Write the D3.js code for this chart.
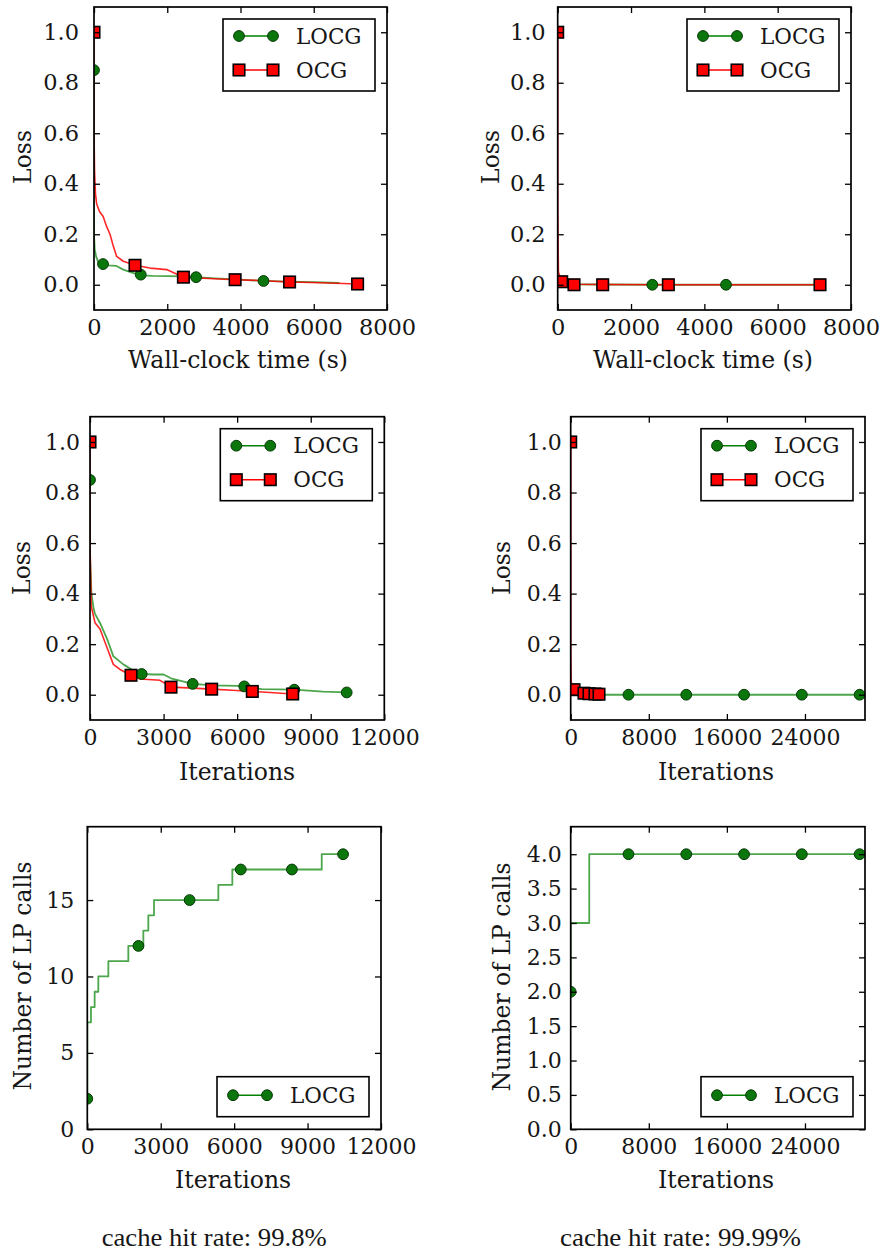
<!DOCTYPE html>
<html><head><meta charset="utf-8">
<script src="https://cdn.jsdelivr.net/npm/d3@7"></script>
<style>
body{margin:0;background:#fff}
svg{display:block}
</style>
</head><body>
<svg id="c" width="881" height="1251"></svg>
<script>
// ---------------- DATA ----------------
const seriesNames = ["LOCG", "OCG"];
const lossTicks = [0.0, 0.2, 0.4, 0.6, 0.8, 1.0];
const timeTicks = [0, 2000, 4000, 6000, 8000];
const iterTicksA = [0, 3000, 6000, 9000, 12000];
const iterTicksB = [0, 8000, 16000, 24000];
const lpTicksA = [0, 5, 10, 15];
const lpTicksB = [0.0, 0.5, 1.0, 1.5, 2.0, 2.5, 3.0, 3.5, 4.0];
const captions = ["cache hit rate: 99.8%", "cache hit rate: 99.99%"];

// Panel 1: loss vs wall-clock time, problem A
const locgTimeA_x = [0, 0, 20, 60, 120, 246, 400, 600, 800, 1000, 1276, 1600, 2000, 2500, 2788, 3300, 4000, 4628, 5300, 6000, 6700];
const locgTimeA_y = [0.85, 0.2, 0.14, 0.11, 0.09, 0.082, 0.077, 0.075, 0.06, 0.05, 0.037, 0.035, 0.034, 0.033, 0.03, 0.025, 0.02, 0.015, 0.012, 0.01, 0.007];
const locgTimeA_mx = [0, 246, 1276, 2788, 4628];
const locgTimeA_my = [0.85, 0.082, 0.04, 0.03, 0.015];
const ocgTimeA_x = [0, 0, 15, 40, 73, 150, 250, 346, 437, 528, 619, 800, 1120, 1530, 1985, 2441, 3000, 3853, 4500, 5340, 6200, 7197];
const ocgTimeA_y = [1.0, 0.6, 0.45, 0.36, 0.32, 0.29, 0.27, 0.23, 0.2, 0.152, 0.112, 0.093, 0.077, 0.066, 0.06, 0.03, 0.026, 0.02, 0.017, 0.011, 0.008, 0.003];
const ocgTimeA_mx = [0, 1120, 2441, 3853, 5340, 7197];
const ocgTimeA_my = [1.0, 0.077, 0.03, 0.02, 0.011, 0.003];

// Panel 2: loss vs wall-clock time, problem B
const locgTimeB_x = [0, 30, 200, 571, 1200, 2581, 4591, 7000];
const locgTimeB_y = [0.012, 0.01, 0.005, 0.002, 0.001, 0.0, 0.0, 0.0];
const locgTimeB_mx = [30, 2581, 4591];
const locgTimeB_my = [0.012, 0.0, 0.0];
const ocgTimeB_x = [0, 0, 20, 109, 445, 1227, 3018, 7155];
const ocgTimeB_y = [1.0, 0.3, 0.05, 0.012, 0.002, 0.001, 0.0, 0.0];
const ocgTimeB_mx = [0, 109, 445, 1227, 3018, 7155];
const ocgTimeB_my = [1.0, 0.012, 0.0, 0.0, 0.0, 0.0];

// Panel 3: loss vs iterations, problem A
const locgIterA_x = [0, 0, 60, 150, 204, 408, 700, 951, 1359, 1700, 2107, 2600, 3000, 3300, 3700, 4186, 5000, 6000, 6290, 7000, 8330, 9500, 10466];
const locgIterA_y = [0.85, 0.55, 0.4, 0.34, 0.32, 0.284, 0.22, 0.152, 0.12, 0.1, 0.082, 0.08, 0.08, 0.065, 0.055, 0.043, 0.037, 0.035, 0.033, 0.022, 0.02, 0.012, 0.009];
const locgIterA_mx = [0, 2107, 4186, 6290, 8330, 10466];
const locgIterA_my = [0.85, 0.082, 0.043, 0.033, 0.02, 0.009];
const ocgIterA_x = [0, 0, 50, 204, 408, 680, 951, 1223, 1672, 2040, 2855, 3302, 4000, 4960, 5800, 6618, 7500, 8264];
const ocgIterA_y = [1.0, 0.6, 0.35, 0.285, 0.26, 0.19, 0.12, 0.1, 0.077, 0.062, 0.057, 0.03, 0.027, 0.022, 0.018, 0.013, 0.008, 0.003];
const ocgIterA_mx = [0, 1672, 3302, 4960, 6618, 8264];
const ocgIterA_my = [1.0, 0.077, 0.03, 0.022, 0.013, 0.003];

// Panel 4: loss vs iterations, problem B
const locgIterB_x = [0, 3000, 5920, 11840, 17760, 23680, 29600];
const locgIterB_y = [0.01, 0.0, 0.0, 0.0, 0.0, 0.0, 0.0];
const locgIterB_mx = [5920, 11840, 17760, 23680, 29600];
const locgIterB_my = [0.0, 0.0, 0.0, 0.0, 0.0];
const ocgIterB_x = [0, 0, 50, 340, 1363, 1875, 2490, 2900];
const ocgIterB_y = [1.0, 0.17, 0.05, 0.02, 0.006, 0.004, 0.003, 0.002];
const ocgIterB_mx = [0, 340, 1363, 1875, 2490, 2900];
const ocgIterB_my = [1.0, 0.02, 0.006, 0.004, 0.003, 0.002];

// Panel 5: number of LP calls vs iterations, problem A (step)
const lpA_x = [0, 0, 150, 300, 450, 860, 1676, 2290, 2493, 2725, 5354, 5926, 9578, 10466];
const lpA_y = [2, 7, 8, 9, 10, 11, 12, 13, 14, 15, 16, 17, 18, 18];
const lpA_mx = [0, 2090, 4180, 6270, 8360, 10450];
const lpA_my = [2, 12, 15, 17, 17, 18];

// Panel 6: number of LP calls vs iterations, problem B (step)
const lpB_x = [0, 0, 1900, 29600];
const lpB_y = [2, 3, 4, 4];
const lpB_mx = [0, 5920, 11840, 17760, 23680, 29600];
const lpB_my = [2, 4, 4, 4, 4, 4];

// ---------------- STYLE / LAYOUT ----------------
const FONT = "'DejaVu Serif', serif";
const CAP_FONT = "'Liberation Serif', 'Times New Roman', serif";
const GREEN = "#008000", RED = "#ff0000";
const zip = (xs, ys) => xs.map((x, i) => ({x, y: ys[i]}));
const locgStyle = {name: seriesNames[0], color: GREEN, marker: "circle", lineOpacity: 0.7, lw: 1.8};
const ocgStyle = {name: seriesNames[1], color: RED, marker: "square", lineOpacity: 0.85, lw: 1.6};

const panels = [
  {l: 94, r: 387, t: 7, b: 310, xd: [0, 8000], xt: timeTicks, yd: [-0.1, 1.1], yt: lossTicks, yf: ".1f", fs: 22.5,
   ylab: "Loss", ylx: 23, yly: 157, xlab: "Wall-clock time (s)", xlx: 238, xly: 360, ypad: 15, legend: "top", step: false,
   series: [
     {...locgStyle, line: zip(locgTimeA_x, locgTimeA_y), marks: zip(locgTimeA_mx, locgTimeA_my)},
     {...ocgStyle, line: zip(ocgTimeA_x, ocgTimeA_y), marks: zip(ocgTimeA_mx, ocgTimeA_my)}]},
  {l: 557.7, r: 851, t: 7, b: 310, xd: [0, 8000], xt: timeTicks, yd: [-0.1, 1.1], yt: lossTicks, yf: ".1f", fs: 22.5,
   ylab: "Loss", ylx: 491, yly: 157, xlab: "Wall-clock time (s)", xlx: 703, xly: 360, ypad: 12, legend: "top", step: false,
   series: [
     {...locgStyle, line: zip(locgTimeB_x, locgTimeB_y), marks: zip(locgTimeB_mx, locgTimeB_my)},
     {...ocgStyle, line: zip(ocgTimeB_x, ocgTimeB_y), marks: zip(ocgTimeB_mx, ocgTimeB_my)}]},
  {l: 90, r: 384.3, t: 416.7, b: 720, xd: [0, 12000], xt: iterTicksA, yd: [-0.1, 1.1], yt: lossTicks, yf: ".1f", fs: 22,
   ylab: "Loss", ylx: 22, yly: 568, xlab: "Iterations", xlx: 237, xly: 772, ypad: 10, legend: "top", step: false,
   series: [
     {...locgStyle, line: zip(locgIterA_x, locgIterA_y), marks: zip(locgIterA_mx, locgIterA_my)},
     {...ocgStyle, line: zip(ocgIterA_x, ocgIterA_y), marks: zip(ocgIterA_mx, ocgIterA_my)}]},
  {l: 570.7, r: 865, t: 416.7, b: 720, xd: [0, 30150], xt: iterTicksB, yd: [-0.1, 1.1], yt: lossTicks, yf: ".1f", fs: 22,
   ylab: "Loss", ylx: 502, yly: 568, xlab: "Iterations", xlx: 716, xly: 772, ypad: 9, legend: "top", step: false,
   series: [
     {...locgStyle, line: zip(locgIterB_x, locgIterB_y), marks: zip(locgIterB_mx, locgIterB_my)},
     {...ocgStyle, line: zip(ocgIterB_x, ocgIterB_y), marks: zip(ocgIterB_mx, ocgIterB_my)}]},
  {l: 87.3, r: 381, t: 826.7, b: 1129.3, xd: [0, 12000], xt: iterTicksA, yd: [0, 19.8], yt: lpTicksA, yf: "d", fs: 22,
   ylab: "Number of LP calls", ylx: 23, yly: 976, xlab: "Iterations", xlx: 233, xly: 1180, ypad: 13, legend: "bottom", step: true,
   series: [{...locgStyle, line: zip(lpA_x, lpA_y), marks: zip(lpA_mx, lpA_my)}]},
  {l: 570.7, r: 865, t: 826.7, b: 1129.3, xd: [0, 30150], xt: iterTicksB, yd: [0, 4.4], yt: lpTicksB, yf: ".1f", fs: 22,
   ylab: "Number of LP calls", ylx: 502, yly: 977, xlab: "Iterations", xlx: 716, xly: 1180, ypad: 9, legend: "bottom", step: true,
   series: [{...locgStyle, line: zip(lpB_x, lpB_y), marks: zip(lpB_mx, lpB_my)}]}
];

const LABEL_FS = 23.5, LEG_FS = 21.5;
const TXT = "#161616";
const svg = d3.select("#c");

function drawMarker(g, type, cx, cy, color) {
  if (type === "circle") {
    g.append("circle").attr("cx", cx).attr("cy", cy).attr("r", 5.4)
      .attr("fill", "#0b760b").attr("stroke", "#063806").attr("stroke-width", 1);
  } else {
    const s = 11.5;
    g.append("rect").attr("x", cx - s / 2).attr("y", cy - s / 2).attr("width", s).attr("height", s)
      .attr("fill", color).attr("stroke", "#000").attr("stroke-width", 1.6);
  }
}

panels.forEach((p, pi) => {
  const x = d3.scaleLinear().domain(p.xd).range([p.l, p.r]);
  const y = d3.scaleLinear().domain(p.yd).range([p.b, p.t]);
  const g = svg.append("g");
  const clipId = "clip" + pi;
  svg.append("clipPath").attr("id", clipId).append("rect")
    .attr("x", p.l).attr("y", p.t).attr("width", p.r - p.l).attr("height", p.b - p.t);
  const plot = g.append("g").attr("clip-path", `url(#${clipId})`);

  const line = d3.line().x(d => x(d.x)).y(d => y(d.y)).curve(p.step ? d3.curveStepAfter : d3.curveLinear);
  p.series.forEach(s => {
    plot.append("path").attr("d", line(s.line)).attr("fill", "none")
      .attr("stroke", s.color).attr("stroke-opacity", s.lineOpacity).attr("stroke-width", s.lw)
      .attr("stroke-linejoin", "round");
  });
  p.series.forEach(s => {
    s.marks.forEach(d => drawMarker(plot, s.marker, x(d.x), y(d.y), s.color));
  });

  const fmt = d3.format(p.yf);
  const ax = [
    g.append("g").attr("transform", `translate(0,${p.b})`)
      .call(d3.axisBottom(x).tickValues(p.xt).tickFormat(d3.format("d")).tickSize(-6).tickPadding(9)),
    g.append("g").attr("transform", `translate(0,${p.t})`)
      .call(d3.axisTop(x).tickValues(p.xt).tickFormat("").tickSize(-6)),
    g.append("g").attr("transform", `translate(${p.l},0)`)
      .call(d3.axisLeft(y).tickValues(p.yt).tickFormat(fmt).tickSize(-6).tickPadding(p.ypad)),
    g.append("g").attr("transform", `translate(${p.r},0)`)
      .call(d3.axisRight(y).tickValues(p.yt).tickFormat("").tickSize(-6))
  ];
  ax.forEach(a => {
    a.select(".domain").remove();
    a.attr("font-family", FONT).attr("font-size", p.fs);
    a.selectAll("line").attr("stroke", "#000").attr("stroke-width", 1.3);
    a.selectAll("text").attr("fill", TXT);
  });

  g.append("rect").attr("x", p.l).attr("y", p.t).attr("width", p.r - p.l).attr("height", p.b - p.t)
    .attr("fill", "none").attr("stroke", "#000").attr("stroke-width", 1.7);

  g.append("text").attr("x", p.xlx).attr("y", p.xly).attr("text-anchor", "middle").attr("fill", TXT)
    .attr("dominant-baseline", "central").attr("font-family", FONT).attr("font-size", LABEL_FS).text(p.xlab);
  g.append("text").attr("transform", `translate(${p.ylx},${p.yly}) rotate(-90)`).attr("text-anchor", "middle").attr("fill", TXT)
    .attr("dominant-baseline", "central").attr("font-family", FONT).attr("font-size", LABEL_FS).text(p.ylab);

  const lw = 152, lh = p.series.length === 2 ? 72 : 40;
  const lx = p.r - 12 - lw;
  const ly = p.legend === "top" ? p.t + 12 : p.b - 12.6 - lh;
  const lg = g.append("g");
  lg.append("rect").attr("x", lx).attr("y", ly).attr("width", lw).attr("height", lh)
    .attr("fill", "#fff").attr("stroke", "#000").attr("stroke-width", 1.6);
  p.series.forEach((s, i) => {
    const ey = ly + (p.series.length === 2 ? 17 + 34 * i : 18.5);
    lg.append("line").attr("x1", lx + 16).attr("x2", lx + 50).attr("y1", ey).attr("y2", ey)
      .attr("stroke", s.color).attr("stroke-width", 1.6);
    drawMarker(lg, s.marker, lx + 16, ey, s.color);
    drawMarker(lg, s.marker, lx + 50, ey, s.color);
    lg.append("text").attr("x", lx + 73).attr("y", ey).attr("dominant-baseline", "central").attr("fill", TXT)
      .attr("font-family", FONT).attr("font-size", LEG_FS).text(s.name);
  });
});

[[captions[0], 101.7, 225], [captions[1], 560, 241]].forEach(([t, x0, w]) => {
  svg.append("text").attr("x", x0).attr("y", 1246).attr("font-family", CAP_FONT).attr("font-size", 24.5)
    .attr("fill", TXT).attr("textLength", w).attr("lengthAdjust", "spacingAndGlyphs").text(t);
});
</script>
</body></html>
